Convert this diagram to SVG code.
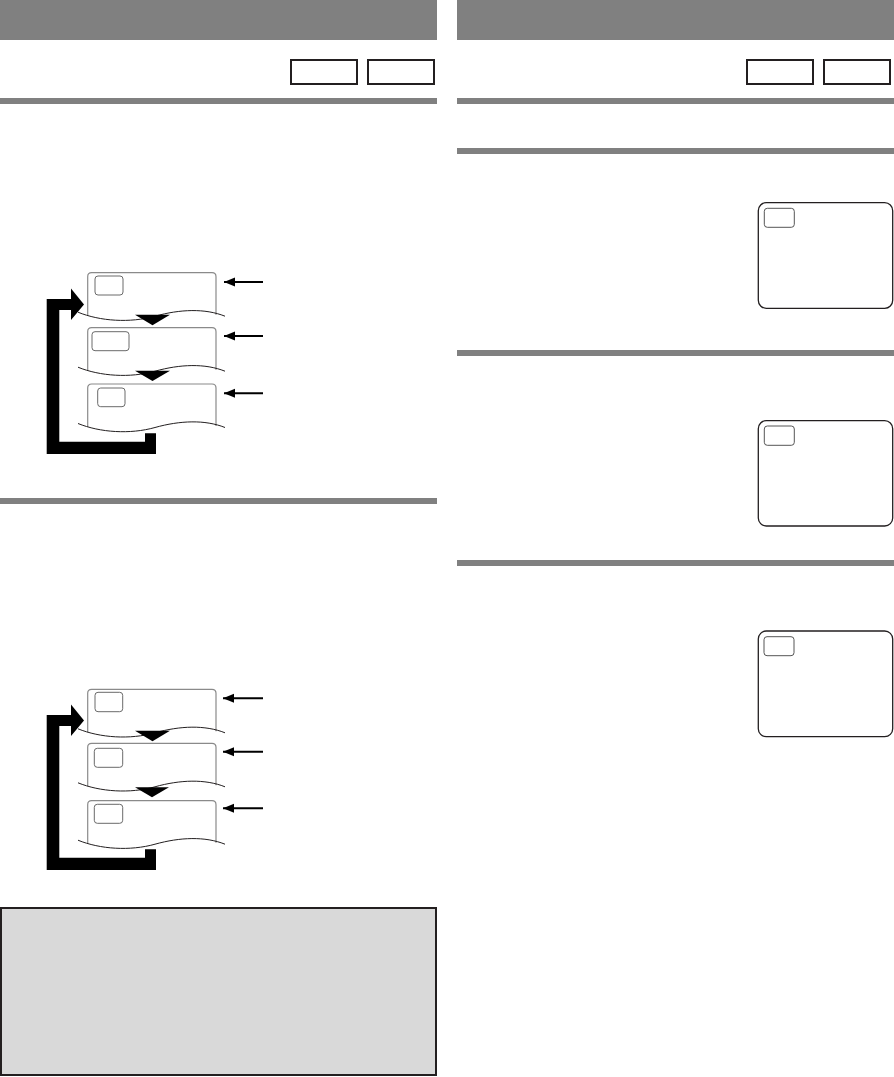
<svg xmlns="http://www.w3.org/2000/svg" width="894" height="1077" viewBox="0 0 894 1077">
<style>
.band{fill:#808080}
.tag{fill:#fff;stroke:#231f20;stroke-width:2}
.scr{fill:#fff;stroke:#8a8a8a;stroke-width:1.2}
.wave{fill:none;stroke:#231f20;stroke-width:1}
.inner{fill:#fff;stroke:#6a6a6a;stroke-width:1}
.tri{fill:#000}
.ptr{stroke:#000;stroke-width:2;fill:none;marker-end:url(#ah)}
.big{fill:#000}
.tv{fill:#fff;stroke:#231f20;stroke-width:1.3}
.tvin{fill:#fff;stroke:#555;stroke-width:1}
.note{fill:#d9d9d9;stroke:#231f20;stroke-width:2}
</style>
<defs>
<marker id="ah" markerWidth="12" markerHeight="10" refX="11" refY="5" orient="auto" markerUnits="userSpaceOnUse">
<polygon points="0,0.5 11,5 0,9.5" fill="#000"/>
</marker>
</defs>
<rect width="894" height="1077" fill="#fff"/>
<g id="header-left"><rect class="band" x="0" y="0" width="437" height="40"/></g>
<g id="header-right"><rect class="band" x="457" y="0" width="437" height="40"/></g>
<g id="tag-l1"><rect class="tag" x="291" y="60" width="66" height="24"/></g>
<g id="tag-l2"><rect class="tag" x="368" y="60" width="66" height="24"/></g>
<g id="tag-r1"><rect class="tag" x="747" y="60" width="66" height="24"/></g>
<g id="tag-r2"><rect class="tag" x="824" y="60" width="66" height="24"/></g>
<g id="rules">
<rect class="band" x="0" y="98" width="437" height="6"/>
<rect class="band" x="0" y="498" width="437" height="6"/>
<rect class="band" x="457" y="98" width="437" height="6"/>
<rect class="band" x="457" y="148" width="437" height="6"/>
<rect class="band" x="457" y="350" width="437" height="6"/>
<rect class="band" x="457" y="560" width="437" height="6"/>
</g>
<g id="d1-s1" transform="translate(0,272.7)">
<path class="scr" d="M87.7,43 V4 Q87.7,0 91.7,0 H212 Q216,0 216,4 V42"/>
<rect class="inner" x="95" y="3.3" width="28" height="19" rx="3"/>
<path class="wave" d="M78,39.5 C100,48.5 130,50.5 155,43.5 S205,35.5 225,43.5"/>
<polygon class="tri" points="135,42 170,42 152.5,52.5"/>
</g>
<g id="d1-s2" transform="translate(0,327.7)">
<path class="scr" d="M87.7,43 V4 Q87.7,0 91.7,0 H212 Q216,0 216,4 V42"/>
<rect class="inner" x="92" y="4" width="37" height="19" rx="3"/>
<path class="wave" d="M78,39.5 C100,48.5 130,50.5 155,43.5 S205,35.5 225,43.5"/>
<polygon class="tri" points="135,43 170,43 152.5,53.3"/>
</g>
<g id="d1-s3" transform="translate(0,384)">
<path class="scr" d="M87.7,43 V4 Q87.7,0 91.7,0 H212 Q216,0 216,4 V42"/>
<rect class="inner" x="97.7" y="4" width="27.3" height="18.7" rx="3"/>
<path class="wave" d="M78,39.5 C100,48.5 130,50.5 155,43.5 S205,35.5 225,43.5"/>
</g>
<g id="d1-loop"><polygon class="big" points="46.7,299 71,299 71,288.5 84,304.5 71,320 71,310 59.3,310 59.3,441.7 145,441.7 145,433.3 156,433.3 156,454 46.7,454"/></g>
<g id="d2-s1" transform="translate(0,689.3)">
<path class="scr" d="M87.7,43 V4 Q87.7,0 91.7,0 H212 Q216,0 216,4 V42"/>
<rect class="inner" x="95" y="3" width="27.7" height="19.4" rx="3"/>
<path class="wave" d="M78,39.5 C100,48.5 130,50.5 155,43.5 S205,35.5 225,43.5"/>
<polygon class="tri" points="135,41.5 170,41.5 152.5,52"/>
</g>
<g id="d2-s2" transform="translate(0,743.3)">
<path class="scr" d="M87.7,43 V4 Q87.7,0 91.7,0 H212 Q216,0 216,4 V42"/>
<rect class="inner" x="94.3" y="5" width="28.4" height="19" rx="3"/>
<path class="wave" d="M78,39.5 C100,48.5 130,50.5 155,43.5 S205,35.5 225,43.5"/>
<polygon class="tri" points="135,44 169,44 152,54"/>
</g>
<g id="d2-s3" transform="translate(0,800.7)">
<path class="scr" d="M87.7,43 V4 Q87.7,0 91.7,0 H212 Q216,0 216,4 V42"/>
<rect class="inner" x="94.3" y="3.6" width="28.4" height="19" rx="3"/>
<path class="wave" d="M78,39.5 C100,48.5 130,50.5 155,43.5 S205,35.5 225,43.5"/>
</g>
<g id="d2-loop" transform="translate(0,416)"><polygon class="big" points="46.7,299 71,299 71,288.5 84,304.5 71,320 71,310 59.3,310 59.3,441.7 145,441.7 145,433.3 156,433.3 156,454 46.7,454"/></g>
<g id="connectors">
<line class="ptr" x1="263" y1="282" x2="224" y2="282"/>
<line class="ptr" x1="263" y1="336" x2="224" y2="336"/>
<line class="ptr" x1="263" y1="393.3" x2="224" y2="393.3"/>
<line class="ptr" x1="263" y1="698.3" x2="223" y2="698.3"/>
<line class="ptr" x1="263" y1="751.7" x2="223" y2="751.7"/>
<line class="ptr" x1="263" y1="808.3" x2="223" y2="808.3"/>
</g>
<g id="tv1">
<rect class="tv" x="758.3" y="202.7" width="134.4" height="105.6" rx="8"/>
<rect class="tvin" x="764.3" y="208.3" width="30" height="19" rx="3"/>
</g>
<g id="tv2">
<rect class="tv" x="758.3" y="420.7" width="134.4" height="105.3" rx="8"/>
<rect class="tvin" x="764.3" y="426" width="30" height="19.3" rx="3"/>
</g>
<g id="tv3">
<rect class="tv" x="758.3" y="631" width="134.4" height="105.7" rx="8"/>
<rect class="tvin" x="764" y="636.7" width="30" height="19" rx="3"/>
</g>
<g id="note"><rect class="note" x="1" y="908" width="435" height="167"/></g>
</svg>
